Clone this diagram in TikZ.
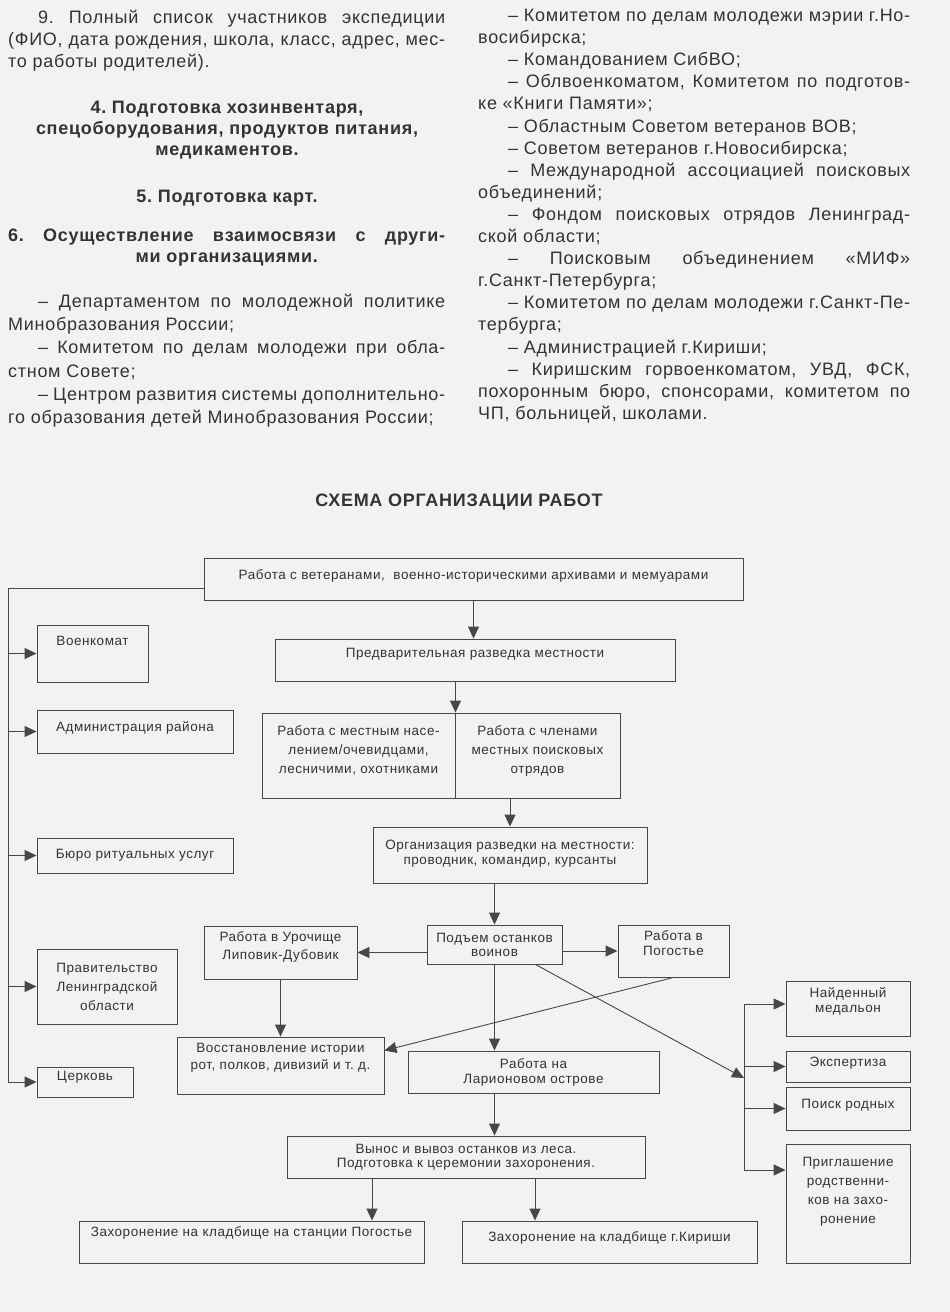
\documentclass[tikz,border=0pt]{standalone}
\usepackage{fontspec}
\setmainfont{Liberation Sans}[LetterSpace=4]
\usetikzlibrary{arrows.meta}

\definecolor{paper}{gray}{0.95}
\definecolor{ink}{gray}{0.2}
\definecolor{frame}{gray}{0.28}
\newcommand{\abz}{\hspace*{30pt}}
\frenchspacing

\begin{document}
\begin{tikzpicture}[x=1pt, y=-1pt,
  blk/.style={draw=frame, line width=0.9pt, align=center, inner sep=0pt,
    text=ink, font=\fontsize{13.5}{15}\selectfont},
  ls/.style={font=\fontsize{13.5}{#1}\selectfont},
  lift/.style={execute at end node={\rule[-#1pt]{0pt}{0pt}}},
  ln/.style={draw=frame, line width=0.9pt},
  arr/.style={ln, -{Triangle[length=12pt,width=11pt]}},
  txt/.style={text=ink, inner sep=0pt, anchor=north west, align=justify,
    text width=437pt, font=\fontsize{18}{22.1}\selectfont},
  hd/.style={text=ink, inner sep=0pt, align=center,
    font=\bfseries\fontsize{18}{21}\selectfont}]

  % paper
  \fill[paper] (0,0) rectangle (950,1312);
  \useasboundingbox (0,0) rectangle (950,1312);

  % left column
  \node[txt] (p9) at (8,10) {\abz 9. Полный список участников экспедиции\linebreak
    (ФИО, дата рождения, школа, класс, адрес, мес-\linebreak то работы родителей).};
  \node[hd] (h4) at (227,130) {4. Подготовка хозинвентаря,\\спецоборудования, продуктов питания,\\медикаментов.};
  \node[hd] (h5) at (227,198) {5. Подготовка карт.};
  \node[hd, anchor=north west, text width=437pt, align=justify] (h6) at (8,229)
    {\parfillskip=0pt 6. Осуществление взаимосвязи с други-\linebreak
    \hspace*{\fill}ми организациями.\hspace*{\fill}};
  \node[txt, font=\fontsize{18}{23.2}\selectfont] (dep) at (8,294)
    {\abz – Департаментом по молодежной политике\linebreak
    Минобразования России;\par
    \abz – Комитетом по делам молодежи при обла-\linebreak стном Совете;\par
    \abz – Центром развития системы дополнительно-\linebreak
    го образования детей Минобразования России;};

  % right column
  \node[txt, text width=432pt] (kom) at (478,9) {\abz – Комитетом по делам молодежи мэрии г.Но-\linebreak восибирска;\par
    \abz – Командованием СибВО;\par
    \abz – Облвоенкоматом, Комитетом по подготов-\linebreak ке «Книги Памяти»;\par
    \abz – Областным Советом ветеранов ВОВ;\par
    \abz – Советом ветеранов г.Новосибирска;\par
    \abz – Международной ассоциацией поисковых\linebreak объединений;\par
    \abz – Фондом поисковых отрядов Ленинград-\linebreak ской области;\par
    \abz – Поисковым объединением «МИФ»\linebreak г.Санкт-Петербурга;\par
    \abz – Комитетом по делам молодежи г.Санкт-Пе-\linebreak тербурга;\par
    \abz – Администрацией г.Кириши;\par
    \abz – Киришским горвоенкоматом, УВД, ФСК,\linebreak
    похоронным бюро, спонсорами, комитетом по\linebreak ЧП, больницей, школами.};

  \node[hd] (title) at (459,502) {СХЕМА ОРГАНИЗАЦИИ РАБОТ};

  % blocks
  \node[blk, minimum width=539, minimum height=42, lift=8] (vet) at (473.5,579)
    {Работа с ветеранами,\ \ военно-историческими архивами и мемуарами};
  \node[blk, minimum width=111, minimum height=57, lift=25] (voen) at (92.5,653.5) {Военкомат};
  \node[blk, minimum width=400, minimum height=42, lift=14] (pred) at (475,660) {Предварительная разведка местности};
  \node[blk, minimum width=196, minimum height=43, lift=11] (adm) at (135,731.5) {Администрация района};
  \node[blk, ls=19, minimum width=193, minimum height=85, lift=11] (mest) at (358.5,755.5)
    {Работа с местным насе-\\лением/очевидцами,\\лесничими, охотниками};
  \node[blk, ls=19, minimum width=165, minimum height=85, lift=11] (chl) at (537.5,755.5)
    {Работа с членами\\местных поисковых\\отрядов};
  \node[blk, ls=15, minimum width=274, minimum height=56, lift=6] (org) at (510,855)
    {Организация разведки на местности:\\проводник, командир, курсанты};
  \node[blk, minimum width=196, minimum height=35] (buro) at (135,855.5) {Бюро ритуальных услуг};
  \node[blk, ls=14, minimum width=135, minimum height=39] (podem) at (494.5,944.5) {Подъем останков\\воинов};
  \node[blk, ls=15, minimum width=111, minimum height=52, lift=15] (pog) at (673.5,951) {Работа в\\Погостье};
  \node[blk, ls=18, minimum width=153, minimum height=53, lift=13] (uroch) at (280.5,952.5) {Работа в Урочище\\Липовик-Дубовик};
  \node[blk, ls=19, minimum width=140, minimum height=75] (prav) at (107,986.5) {Правительство\\Ленинградской\\области};
  \node[blk, ls=15, minimum width=124, minimum height=55, lift=18] (naid) at (848,1008.5) {Найденный\\медальон};
  \node[blk, ls=17, minimum width=207, minimum height=57, lift=18] (vosst) at (280.5,1065.5)
    {Восстановление истории\\рот, полков, дивизий и т. д.};
  \node[blk, ls=15, minimum width=251, minimum height=42] (lar) at (533.5,1072) {Работа на\\Ларионовом острове};
  \node[blk, minimum width=124, minimum height=31, lift=9] (eksp) at (848,1066.5) {Экспертиза};
  \node[blk, minimum width=96, minimum height=30, lift=12] (cerk) at (85,1082) {Церковь};
  \node[blk, minimum width=124, minimum height=43, lift=9] (poisk) at (848,1108.5) {Поиск родных};
  \node[blk, ls=14, minimum width=358, minimum height=42] (vynos) at (466,1157)
    {Вынос и вывоз останков из леса.\\Подготовка к церемонии захоронения.};
  \node[blk, ls=19, minimum width=124, minimum height=119, lift=26] (prigl) at (848,1203.5)
    {Приглашение\\родственни-\\ков на захо-\\ронение};
  \node[blk, minimum width=345, minimum height=42, lift=20] (pogreb) at (251.5,1242)
    {Захоронение на кладбище на станции Погостье};
  \node[blk, minimum width=295, minimum height=42, lift=10] (kir) at (609.5,1242)
    {Захоронение на кладбище г.Кириши};

  % arrows
  \coordinate (lt) at (8,588);
  \coordinate (rt) at (744,1004);
  \coordinate (rb) at (744,1170);
  \coordinate (kn) at (744,1078);
  \draw[arr] (vet.west |- lt) -- (lt) |- (cerk.west);
  \foreach \b in {voen,adm,buro,prav}
    \draw[arr] (lt |- \b.west) -- (\b.west);
  \draw[arr] (vet.south) -- (vet.south |- pred.north);
  \draw[arr] (mest.north east |- pred.south) -- (mest.north east);
  \draw[arr] (org.north |- mest.south) -- (org.north);
  \draw[arr] (podem.north |- org.south) -- (podem.north);
  \draw[arr] (podem.west |- uroch.east) -- (uroch.east);
  \draw[arr] (podem.east |- pog.west) -- (pog.west);
  \draw[arr] (uroch.south) -- (uroch.south |- vosst.north);
  \draw[arr] (pog.south) -- ([yshift=15pt]vosst.east);
  \draw[arr] (podem.south) -- (podem.south |- lar.north);
  \draw[arr] ([xshift=-27pt]podem.south east) -- (kn);
  \draw[arr] (lar.south -| podem.south) -- (vynos.north -| podem.south);
  \draw[ln] (rt) -- (rb);
  \draw[arr] (rt) -- (rt -| naid.west);
  \draw[arr] (rt |- eksp.west) -- (eksp.west);
  \draw[arr] (rt |- poisk.west) -- (poisk.west);
  \draw[arr] (rb) -- (rb -| prigl.west);
  \draw[arr] ([xshift=-94pt]vynos.south) -- ([xshift=-94pt]vynos.south |- pogreb.north);
  \draw[arr] ([xshift=69pt]vynos.south) -- ([xshift=69pt]vynos.south |- kir.north);
\end{tikzpicture}
\end{document}
